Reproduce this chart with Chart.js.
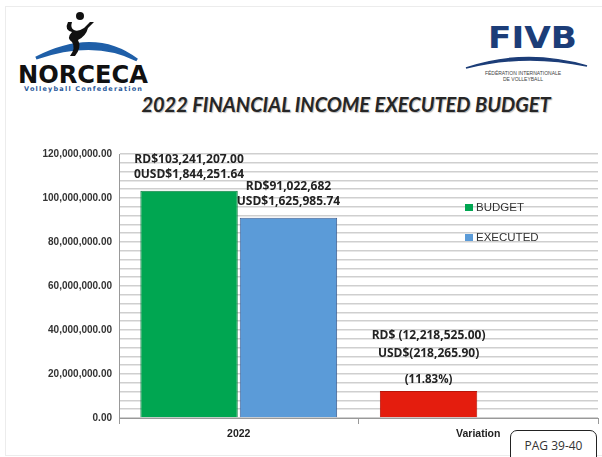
<!DOCTYPE html>
<html>
<head>
<meta charset="utf-8">
<script src="https://cdn.jsdelivr.net/npm/chart.js@4.4.1/dist/chart.umd.min.js"></script>
<style>
  body { margin: 0; background: #fff; font-family: "Liberation Sans", Arial, sans-serif; }
  #page { position: relative; width: 602px; height: 457px; overflow: hidden; }
  #frame { position: absolute; left: 5px; top: 6px; width: 600px; height: 448px; border: 1px solid #ececec; }
  #wrap { position: absolute; left: 0; top: 0; width: 602px; height: 457px; }
  #title { position: absolute; left: 0; width: 692px; top: 92px; text-align: center;
           font: italic bold 20px Lato, "Liberation Sans", sans-serif; color: #262626;
           text-shadow: 1px 1px 1px #bbb; }
  #pag { position: absolute; left: 510px; top: 430px; width: 87px; height: 34px;
         border: 1.5px solid #222; border-radius: 7px; box-sizing: border-box;
         font: 12px "Open Sans", sans-serif; color: #333; text-align: center; padding-top: 6px; background: #fff; }
  svg { position: absolute; left: 0; top: 0; }
</style>
</head>
<body>
<div id="page">
  <div id="frame"></div>
  <svg width="602" height="100">
    <!-- NORCECA -->
    <path d="M36 58 Q95 28 137 60 Q95 38 36 58 Z" fill="#1f5fa8" stroke="#1f5fa8" stroke-width="3"/>
    <circle cx="80" cy="16" r="4" fill="#111"/>
    <path d="M68 22 Q64 30 72 32 Q66 38 72 42 Q76 48 70 56 L75 56 Q82 47 78 40 Q86 36 88 28 L94 22 L90 22 L84 28 Q78 32 74 30 Q70 28 72 22 Z" fill="#111"/>
    <text x="18" y="83" font-family="DejaVu Sans" font-weight="bold" font-size="24" fill="#111" textLength="130" lengthAdjust="spacingAndGlyphs">NORCECA</text>
    <text x="24" y="91" font-family="DejaVu Sans" font-weight="bold" font-size="6.5" fill="#2a5a9c" textLength="118">Volleyball  Confederation</text>
    <!-- FIVB -->
    <text x="488" y="48" font-family="DejaVu Sans" font-weight="bold" font-size="31" fill="#1c3d78" textLength="89" lengthAdjust="spacingAndGlyphs">FIVB</text>
    <path d="M466 68 Q525 48 587 66 Q525 53 466 68 Z" fill="#1c3d78" stroke="#1c3d78" stroke-width="1.5"/>
    <text x="523" y="75" text-anchor="middle" font-family="Liberation Sans" font-size="5" fill="#444">FÉDÉRATION INTERNATIONALE</text>
    <text x="523" y="81" text-anchor="middle" font-family="Liberation Sans" font-size="5" fill="#444">DE VOLLEYBALL</text>
  </svg>
  <div id="title">2022 FINANCIAL INCOME EXECUTED BUDGET</div>
  <div id="wrap"><canvas id="chart"></canvas></div>
  <div id="pag">PAG 39-40</div>
</div>
<script>
const categories = ['2022', 'Variation'];
const seriesNames = ['BUDGET', 'EXECUTED'];
const budgetValues = [103241207, 12218525];
const executedValues = [91022682, null];
const budgetLabels = [['RD$103,241,207.00', '0USD$1,844,251.64'], ['RD$ (12,218,525.00)', 'USD$(218,265.90)']];
const executedLabels = [['RD$91,022,682', 'USD$1,625,985.74'], []];
const percentLabels = ['', '(11.83%)'];
const yMax = 120000000;
const yStep = 4000000;
const yLabelStep = 20000000;

const barLabels = {
  id: 'barLabels',
  afterDatasetsDraw(chart) {
    const ctx = chart.ctx;
    const sets = [budgetLabels, executedLabels];
    ctx.save();
    ctx.fillStyle = '#222';
    ctx.textAlign = 'center';
    ctx.textBaseline = 'middle';
    chart.data.datasets.forEach((ds, di) => {
      chart.getDatasetMeta(di).data.forEach((bar, i) => {
        if (ds.data[i] == null) return;
        const lines = sets[di][i] || [];
        const pct = percentLabels[i];
        let y = bar.y - 16;
        let step = 15;
        if (pct) {
          ctx.font = 'bold 11.5px "Open Sans"';
          ctx.fillText(pct, bar.x, bar.y - 11);
          y = bar.y - 38;
          step = 18;
        }
        ctx.font = 'bold 12px "Open Sans"';
        for (let k = lines.length - 1; k >= 0; k--) {
          ctx.fillText(lines[k], bar.x, y);
          y -= step;
        }
      });
    });
    ctx.restore();
  }
};

const sideLegend = {
  id: 'sideLegend',
  afterDraw(chart) {
    const ctx = chart.ctx;
    ctx.save();
    ctx.font = '11.5px "Liberation Sans"';
    ctx.textBaseline = 'middle';
    chart.data.datasets.forEach((ds, i) => {
      const y = 208 + i * 30;
      const c = Array.isArray(ds.backgroundColor) ? ds.backgroundColor[0] : ds.backgroundColor;
      ctx.fillStyle = c;
      ctx.fillRect(465, y - 4, 8, 7);
      ctx.fillStyle = '#333';
      ctx.fillText(ds.label, 476, y);
    });
    ctx.restore();
  }
};

new Chart(document.getElementById('chart'), {
  type: 'bar',
  data: {
    labels: categories,
    datasets: [
      {
        label: seriesNames[0],
        data: budgetValues,
        backgroundColor: ['#00a651', '#e41d0e'],
        borderColor: ['#0b7e40', '#b81408'],
        borderWidth: 1
      },
      {
        label: seriesNames[1],
        data: executedValues,
        backgroundColor: '#5b9bd8',
        borderColor: '#3f5f92',
        borderWidth: 1
      }
    ]
  },
  options: {
    responsive: true,
    maintainAspectRatio: false,
    animation: false,
    layout: { padding: { top: 154, right: 4, left: 0, bottom: 0 } },
    datasets: { bar: { categoryPercentage: 0.83, barPercentage: 0.98 } },
    plugins: { legend: { display: false }, tooltip: { enabled: false } },
    scales: {
      x: {
        offset: true,
        grid: { drawOnChartArea: false, offset: true, tickLength: 6, color: '#999' },
        border: { color: '#999' },
        ticks: { color: '#222', padding: 4, font: { family: 'Liberation Sans', weight: 'bold', size: 10.5 } },
        afterFit: s => { s.height = 39; }
      },
      y: {
        min: 0,
        max: yMax,
        grid: { color: '#cfcfcf', lineWidth: 1.5, drawTicks: false },
        border: { color: '#999' },
        ticks: {
          stepSize: yStep,
          autoSkip: false,
          maxTicksLimit: 100,
          padding: 7,
          color: '#333',
          font: { family: 'Liberation Sans', weight: 'bold', size: 10 },
          callback: v => v % yLabelStep === 0
            ? v.toLocaleString('en-US', { minimumFractionDigits: 2, maximumFractionDigits: 2 })
            : ''
        },
        afterFit: s => { s.width = 119; }
      }
    }
  },
  plugins: [barLabels, sideLegend]
});
</script>
</body>
</html>
